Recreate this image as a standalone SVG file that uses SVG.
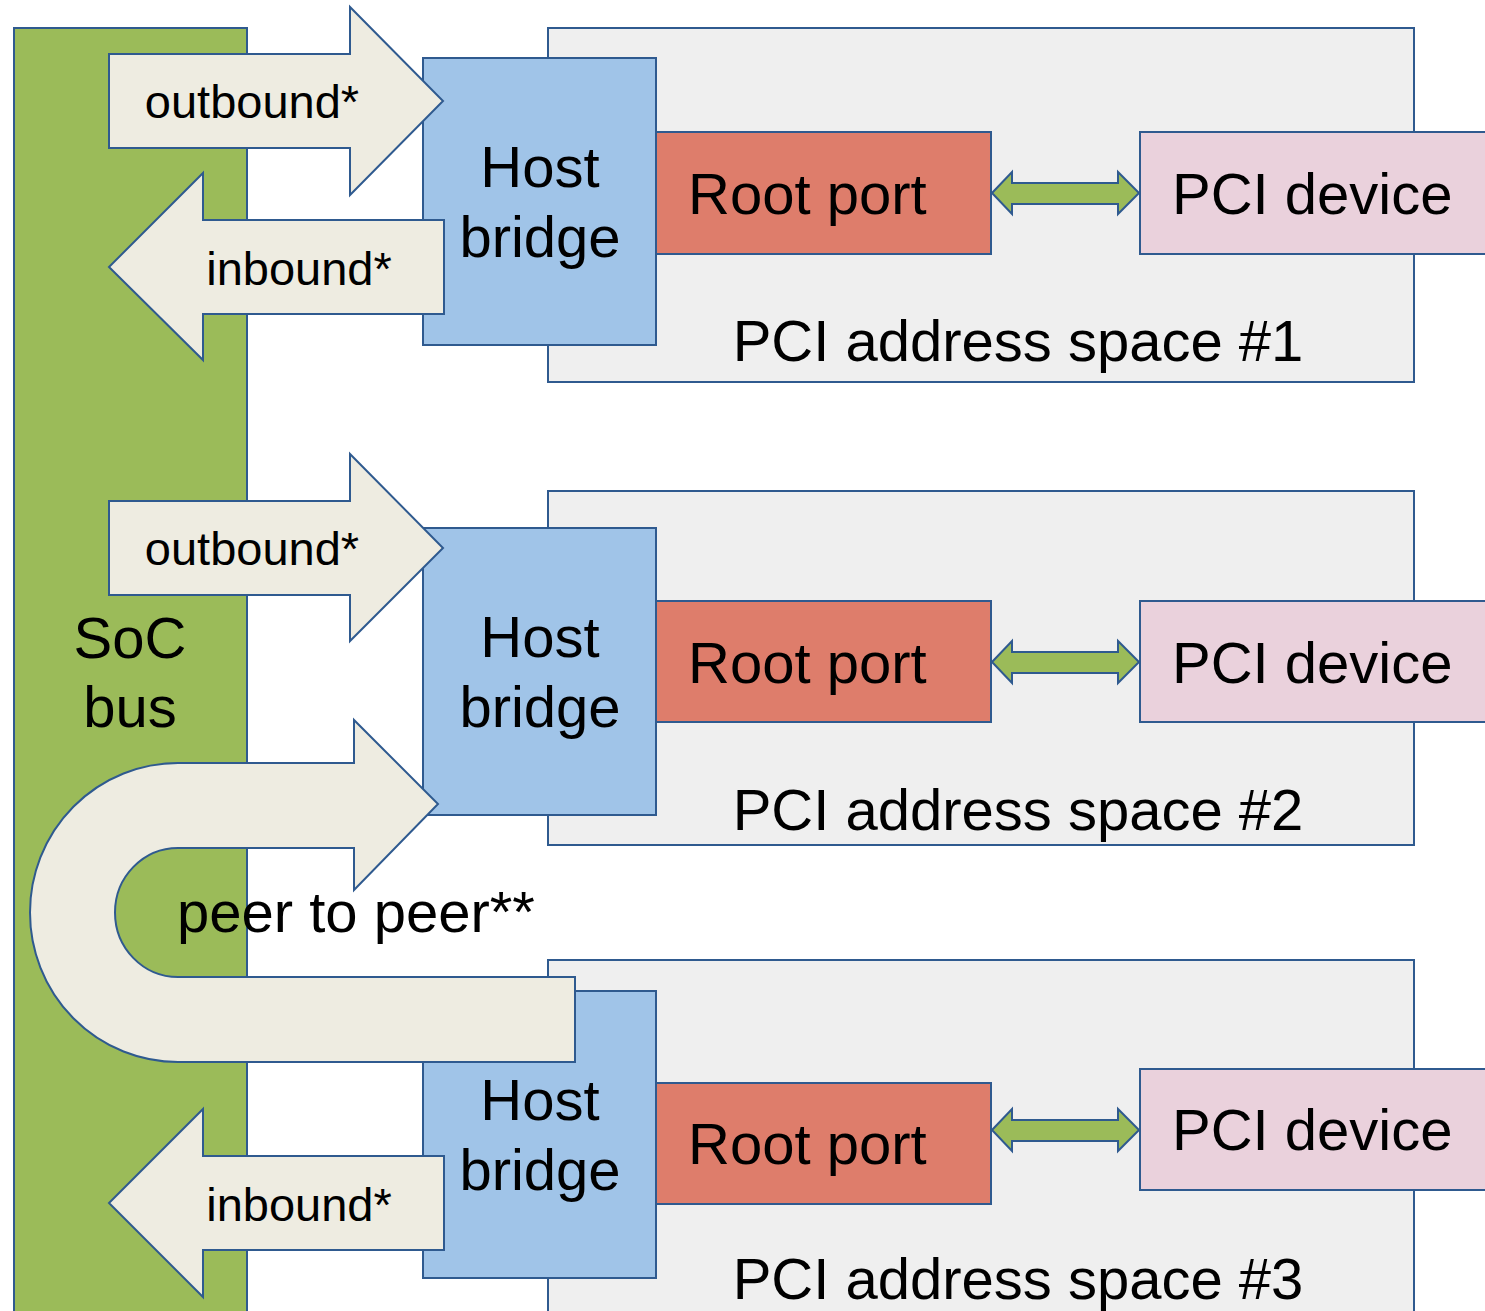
<svg xmlns="http://www.w3.org/2000/svg" width="1485" height="1311" viewBox="0 0 1485 1311">
<style>
.s{stroke:#2F5A8F;stroke-width:2}
.bus{fill:#9BBB59}
.as{fill:#EFEFEF}
.hb{fill:#A0C4E8}
.rp{fill:#DE7D6B}
.pd{fill:#EAD1DC}
.ar{fill:#EEECE1;stroke:#2F5A8F;stroke-width:2;stroke-linejoin:miter}
.da{fill:#9BBB59;stroke:#2F5A8F;stroke-width:2}
text{font-family:"Liberation Sans",Arial,sans-serif;fill:#000}
.t58{font-size:58px}
.t47{font-size:47px}
.m{text-anchor:middle}
</style>
<rect width="1485" height="1311" fill="#fff"/>
<g id="soc-bus">
<rect class="bus s" x="14" y="28" width="233" height="1300"/>
<text class="t58 m" x="130" y="658">SoC</text>
<text class="t58 m" x="130" y="727">bus</text>
</g>
<g id="space1">
<rect class="as s" x="548" y="28" width="866" height="354"/>
<text class="t58 m" x="1018" y="361">PCI address space #1</text>
</g>
<g id="space2">
<rect class="as s" x="548" y="491" width="866" height="354"/>
<text class="t58 m" x="1018" y="830">PCI address space #2</text>
</g>
<g id="space3">
<rect class="as s" x="548" y="960" width="866" height="380"/>
<text class="t58 m" x="1018" y="1299">PCI address space #3</text>
</g>
<g id="hostbridge1">
<rect class="hb s" x="423" y="58" width="233" height="287"/>
<text class="t58 m" x="540" y="187">Host</text>
<text class="t58 m" x="540" y="257">bridge</text>
</g>
<g id="hostbridge2">
<rect class="hb s" x="423" y="528" width="233" height="287"/>
<text class="t58 m" x="540" y="657">Host</text>
<text class="t58 m" x="540" y="727">bridge</text>
</g>
<g id="hostbridge3">
<rect class="hb s" x="423" y="991" width="233" height="287"/>
<text class="t58 m" x="540" y="1120">Host</text>
<text class="t58 m" x="540" y="1190">bridge</text>
</g>
<g id="rootport1">
<rect class="rp s" x="656" y="132" width="335" height="122"/>
<text class="t58" x="688" y="214">Root port</text>
</g>
<g id="rootport2">
<rect class="rp s" x="656" y="601" width="335" height="121"/>
<text class="t58" x="688" y="683">Root port</text>
</g>
<g id="rootport3">
<rect class="rp s" x="656" y="1083" width="335" height="121"/>
<text class="t58" x="688" y="1164">Root port</text>
</g>
<g id="pcidevice1">
<rect class="pd s" x="1140" y="132" width="360" height="122"/>
<text class="t58" x="1172" y="214">PCI device</text>
</g>
<g id="pcidevice2">
<rect class="pd s" x="1140" y="601" width="360" height="121"/>
<text class="t58" x="1172" y="683">PCI device</text>
</g>
<g id="pcidevice3">
<rect class="pd s" x="1140" y="1069" width="360" height="121"/>
<text class="t58" x="1172" y="1150">PCI device</text>
</g>
<g id="connectors">
<path class="da" d="M992,193 L1012,172 L1012,183 L1118,183 L1118,172 L1139,193 L1118,214 L1118,204 L1012,204 L1012,214 Z"/>
<path class="da" d="M992,662 L1012,641 L1012,652 L1118,652 L1118,641 L1139,662 L1118,683 L1118,673 L1012,673 L1012,683 Z"/>
<path class="da" d="M992,1130 L1012,1109 L1012,1120 L1118,1120 L1118,1109 L1139,1130 L1118,1151 L1118,1141 L1012,1141 L1012,1151 Z"/>
<g id="outbound1">
<path class="ar" d="M109,54 L350,54 L350,7 L443,101 L350,195 L350,148 L109,148 Z"/>
<text class="t47 m" x="252" y="118">outbound*</text>
</g>
<g id="inbound1">
<path class="ar" d="M444,220 L203,220 L203,173 L109,267 L203,360 L203,314 L444,314 Z"/>
<text class="t47 m" x="299" y="285">inbound*</text>
</g>
<g id="outbound2">
<path class="ar" d="M109,501 L350,501 L350,454 L443,548 L350,641 L350,595 L109,595 Z"/>
<text class="t47 m" x="252" y="565">outbound*</text>
</g>
<g id="inbound3">
<path class="ar" d="M444,1156 L203,1156 L203,1109 L109,1203 L203,1297 L203,1250 L444,1250 Z"/>
<text class="t47 m" x="299" y="1221">inbound*</text>
</g>
<g id="peer">
<path class="ar" d="M575,1062 L178,1062 A148,149.5 0 0 1 178,763 L354,763 L354,720 L438,804 L354,890 L354,848 L178,848 A63,64.5 0 0 0 178,977 L575,977 Z"/>
<text class="t58" x="177" y="932">peer to peer**</text>
</g>
</g>
</svg>
